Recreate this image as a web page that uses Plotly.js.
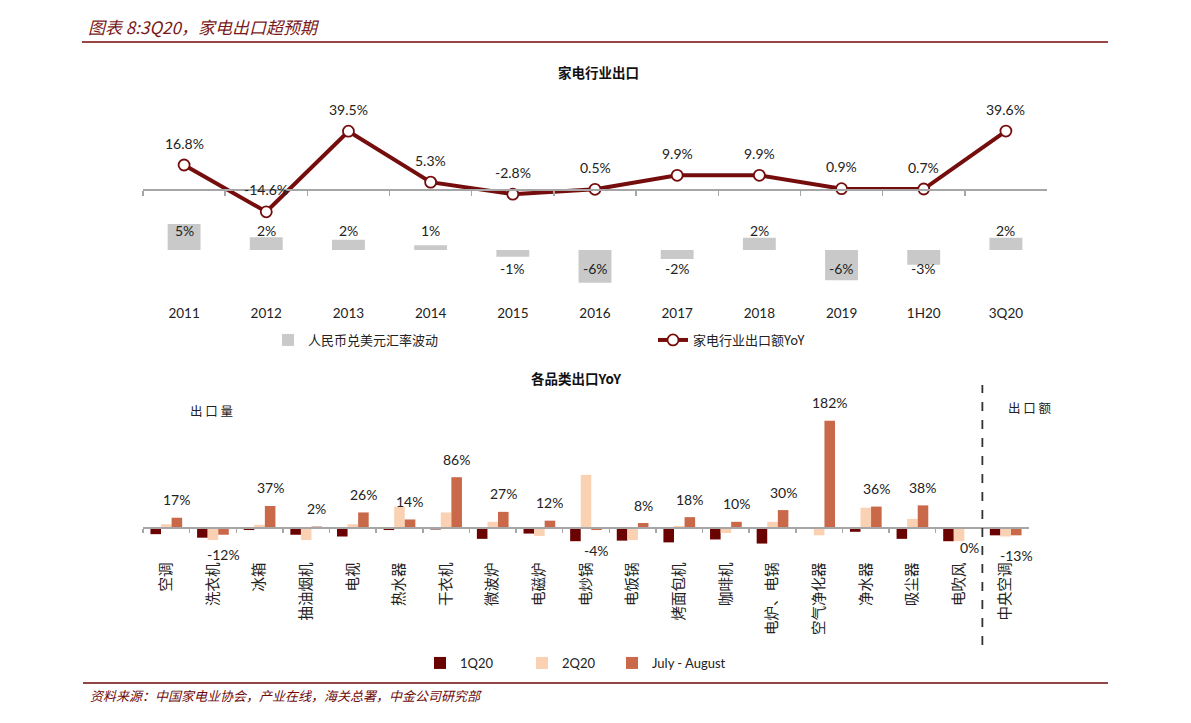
<!DOCTYPE html>
<html><head><meta charset="utf-8">
<script src="https://cdn.plot.ly/plotly-3.0.1.min.js"></script>
<style>html,body{margin:0;padding:0;background:#fff}#chart{width:1191px;height:723px}</style>
</head><body><div id="chart"></div>
<script>
// ---- data ----
const years = ['2011','2012','2013','2014','2015','2016','2017','2018','2019','1H20','3Q20'];
const exportYoY = [16.8,-14.6,39.5,5.3,-2.8,0.5,9.9,9.9,0.9,0.7,39.6];
const fxChange = [4.9,2.4,1.9,0.9,-1.3,-6.2,-1.7,2.3,-5.7,-2.8,2.3];

const categories = ['空调','洗衣机','冰箱','抽油烟机','电视','热水器','干衣机','微波炉','电磁炉','电炒锅','电饭锅','烤面包机','咖啡机','电炉、电锅','空气净化器','净水器','吸尘器','电吹风','中央空调'];
const q1 = [-11,-17,-4,-12,-15,-4,-3,-19,-10,-23,-22,-25,-20,-27,1,-7,-19,-23,-13];
const q2 = [6,-21,5,-21,6,36,26,10,-14,90,-21,3,-9,10,-13,34,15,-23,-15];
const julAug = [17,-12,37,2,26,14,86,27,12,-4,8,18,10,30,182,36,38,0,-13];

const seriesNames = ['1Q20','2Q20','July - August'];
const seriesColors = ['#6A0202','#FAD1B2','#C9694A'];
const seriesLegendWidth = [57, 45, 100];

// ---- helpers ----
const W = 1191, H = 723;
const fx = p => p / W;
const fy = p => 1 - p / H;
const LINE = '#760D0D';
const NUM = 'Lato, "Liberation Sans", sans-serif';
const CJK = '"Noto Sans CJK SC", sans-serif';

const traces = [
  {type:'bar', x: years, y: fxChange, xaxis:'x', yaxis:'y2', width:0.4,
   marker:{color:'#C9C9C9'}, name:'人民币兑美元汇率波动', legend:'legend', hoverinfo:'skip'},
  {type:'scatter', mode:'lines+markers', x: years, y: exportYoY, xaxis:'x', yaxis:'y',
   line:{color:LINE, width:4}, marker:{size:11, color:'#fff', line:{color:LINE, width:1.8}},
   name:'家电行业出口额YoY', legend:'legend', cliponaxis:false, hoverinfo:'skip'}
];
[q1, q2, julAug].forEach((s, i) => {
  traces.push({type:'bar', x: categories, y: s, xaxis:'x2', yaxis:'y3',
    marker:{color: seriesColors[i]}, name: seriesNames[i], legend:'legend2',
    legendwidth: seriesLegendWidth[i], hoverinfo:'skip'});
});

const annotations = [];
const fmt1 = v => v.toFixed(1) + '%';
years.forEach((yr, i) => {
  annotations.push({xref:'x', yref:'y', x: i, y: exportYoY[i], text: fmt1(exportYoY[i]),
    showarrow:false, yshift:22, yanchor:'middle', font:{family:NUM, size:14, color:'#222'}});
  const v = fxChange[i];
  annotations.push({xref:'x', yref:'y2', x: i, y: 0, text: Math.round(v) + '%',
    showarrow:false, yshift: v > 0 ? 19 : -19, yanchor:'middle', font:{family:NUM, size:14, color:'#222'}});
});
categories.forEach((c, i) => {
  const v = julAug[i];
  annotations.push({xref:'x2', yref:'y3', x: i, y: v, text: Math.round(v) + '%',
    showarrow:false, xshift:10.5, yshift: v > 0 ? 18 : -20, yanchor:'middle',
    font:{family:NUM, size:14, color:'#222'}});
});
// titles and notes
annotations.push(
  {xref:'paper', yref:'paper', x: fx(598), y: fy(60), text:'<b>家电行业出口</b>', showarrow:false,
   font:{family:CJK, size:13.5, color:'#111'}},
  {xref:'paper', yref:'paper', x: fx(576), y: fy(378), text:'<b>各品类出口YoY</b>', showarrow:false,
   font:{family:CJK, size:13.5, color:'#111'}},
  {xref:'paper', yref:'paper', x: fx(188), xanchor:'left', y: fy(410), text:'出 口 量', showarrow:false,
   font:{family:CJK, size:12.5, color:'#222'}},
  {xref:'paper', yref:'paper', x: fx(1006), xanchor:'left', y: fy(407), text:'出 口 额', showarrow:false,
   font:{family:CJK, size:12.5, color:'#222'}},
  {xref:'paper', yref:'paper', x: fx(88), y: fy(695), xanchor:'left', yanchor:'middle',
   text:'资料来源：中国家电业协会，产业在线，海关总署，中金公司研究部', showarrow:false,
   font:{family:CJK, size:13, color:'#6E0A0A', style:'italic'}}
);

const layout = {
  width: W, height: H,
  margin:{l:0, r:0, t:0, b:0},
  paper_bgcolor:'#fff', plot_bgcolor:'rgba(0,0,0,0)',
  title:{text:'图表 8:3Q20，家电出口超预期', x: fx(88), xanchor:'left', xref:'paper',
         y: fy(28), yanchor:'middle', yref:'paper',
         font:{family:CJK, size:17, color:'#7B1A1A', style:'italic'}},
  barmode:'group', bargap:0.32, bargroupgap:0,
  showlegend:true,
  xaxis:{domain:[fx(143), fx(1047)], anchor:'free', position: fy(190), type:'category',
    range:[-0.5, years.length - 0.5], autorange:false,
    showline:true, linecolor:'#A6A6A6', linewidth:2, ticks:'outside', tickson:'boundaries',
    ticklen:5, tickwidth:1.5, tickcolor:'#A6A6A6', showgrid:false, zeroline:false,
    tickangle:0, tickfont:{family:NUM, size:13.5, color:'#222'}, ticklabelstandoff:111, fixedrange:true},
  yaxis:{domain:[fy(300), fy(95)], range:[-73.8, 63.8], autorange:false, visible:false, anchor:'x', fixedrange:true},
  yaxis2:{overlaying:'y', range:[-9.43, 29.2], autorange:false, visible:false, anchor:'x', fixedrange:true},
  xaxis2:{domain:[fx(143), fx(1029)], anchor:'free', position: fy(527.7), type:'category',
    range:[-0.5, categories.length - 0.5], autorange:false,
    showline:true, linecolor:'#A6A6A6', linewidth:2, ticks:'outside', tickson:'boundaries',
    ticklen:4, tickwidth:1.5, tickcolor:'#A6A6A6', showgrid:false, zeroline:false,
    tickangle:-90, ticklabelstandoff:28,
    tickfont:{family:CJK, size:14.5, color:'#222'}, fixedrange:true},
  yaxis3:{domain:[fy(560), fy(395)], range:[-55, 226], autorange:false, visible:false, anchor:'x2', fixedrange:true},
  legend:{orientation:'h', x: fx(268), xanchor:'left', y: fy(340), yanchor:'middle',
    entrywidth:340, bgcolor:'rgba(0,0,0,0)', font:{family:CJK, size:13, color:'#222'}},
  legend2:{orientation:'h', x: fx(420), xanchor:'left', y: fy(663), yanchor:'middle',
    bgcolor:'rgba(0,0,0,0)', font:{family:NUM, size:13, color:'#222'}},
  shapes:[
    {type:'line', xref:'paper', yref:'paper', x0: fx(82), x1: fx(1108), y0: fy(42), y1: fy(42),
     line:{color:'#9A4545', width:2}},
    {type:'line', xref:'paper', yref:'paper', x0: fx(83), x1: fx(1108), y0: fy(683), y1: fy(683),
     line:{color:'#6E0A0A', width:1.5}},
    {type:'line', xref:'x2', yref:'paper', x0: 17.5, x1: 17.5, y0: fy(645), y1: fy(385),
     line:{color:'#333', width:1.8, dash:'dash'}}
  ],
  annotations: annotations
};

Plotly.newPlot('chart', traces, layout, {displayModeBar:false, staticPlot:true});
</script>
</body></html>
